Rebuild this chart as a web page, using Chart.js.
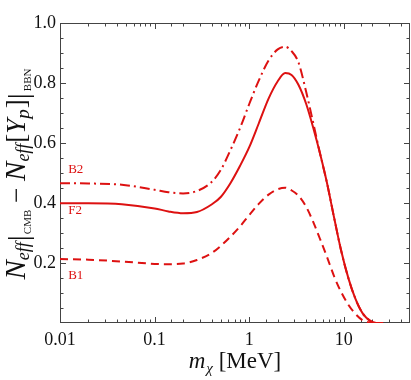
<!DOCTYPE html>
<html>
<head>
<meta charset="utf-8">
<script src="https://cdn.jsdelivr.net/npm/chart.js@4.4.1/dist/chart.umd.min.js"></script>
<style>
  html, body { margin: 0; padding: 0; background: #fff; }
</style>
</head>
<body>
<canvas id="neffChart" width="411" height="380"></canvas>
<script>
// dark matter mass in MeV
const massMeV = [0.01, 0.02, 0.045, 0.1, 0.14, 0.2, 0.28, 0.4, 0.5, 0.63, 0.8, 1.0, 1.26, 1.6, 2.0,
                 2.4, 2.8, 3.3, 4.0, 4.8, 5.6, 6.6, 7.9, 9.3, 11.2, 13.2, 15.8, 19, 22, 26];
// Neff|CMB - Neff[Yp]|BBN for each case
const f2 = [0.399, 0.399, 0.396, 0.382, 0.372, 0.366, 0.370, 0.395, 0.420, 0.465, 0.524, 0.586, 0.665, 0.748, 0.806,
            0.833, 0.827, 0.795, 0.730, 0.645, 0.565, 0.470, 0.350, 0.245, 0.148, 0.082, 0.032, 0.007, 0.0, 0.0];
const b2 = [0.466, 0.465, 0.461, 0.444, 0.436, 0.432, 0.440, 0.470, 0.510, 0.575, 0.650, 0.730, 0.808, 0.875, 0.912,
            0.921, 0.906, 0.870, 0.770, 0.660, 0.565, 0.470, 0.350, 0.245, 0.148, 0.082, 0.032, 0.007, 0.0, 0.0];
const b1 = [0.213, 0.211, 0.205, 0.197, 0.196, 0.198, 0.210, 0.233, 0.257, 0.287, 0.322, 0.360, 0.397, 0.428, 0.446,
            0.451, 0.442, 0.425, 0.387, 0.333, 0.280, 0.222, 0.155, 0.105, 0.060, 0.031, 0.009, 0.001, 0.0, 0.0];

const xTickLabels = [0.01, 0.1, 1, 10];
const yTickLabels = [0.2, 0.4, 0.6, 0.8, 1.0];

const RED = "#dd1111";
const SERIF = "'Liberation Serif', 'DejaVu Serif', serif";

const toPoints = (vals) => vals.map((v, i) => ({ x: massMeV[i], y: v }));
const isDecade = (v) => Math.abs(Math.log10(v) - Math.round(Math.log10(v))) < 1e-6;
const isMajorY = (v) => yTickLabels.some(t => Math.abs(t - v) < 1e-6) || Math.abs(v) < 1e-6;

// draws a row of text pieces: [text, font, baseline shift, extra gap after]
function drawPieces(ctx, pieces, cx, cy) {
    let total = 0;
    pieces.forEach(p => { ctx.font = p[1]; total += ctx.measureText(p[0]).width + (p[3] || 0); });
    let x = cx - total / 2;
    pieces.forEach(p => {
        ctx.font = p[1];
        ctx.fillText(p[0], x, cy + (p[2] || 0));
        x += ctx.measureText(p[0]).width + (p[3] || 0);
    });
}

const frame = {
    id: "frame",
    beforeDatasetsDraw(chart) {
        const { ctx, chartArea: a, scales: { x, y } } = chart;
        ctx.save();
        ctx.strokeStyle = "#444";
        ctx.lineWidth = 1;
        ctx.strokeRect(a.left + 0.5, a.top + 0.5, a.right - a.left - 1, a.bottom - a.top - 1);
        ctx.beginPath();
        x.ticks.forEach(t => {
            const px = Math.round(x.getPixelForValue(t.value)) + 0.5;
            if (px <= a.left + 1 || px >= a.right - 1) return;
            const len = isDecade(t.value) ? 6 : 3.5;
            ctx.moveTo(px, a.bottom); ctx.lineTo(px, a.bottom - len);
            ctx.moveTo(px, a.top); ctx.lineTo(px, a.top + len);
        });
        y.ticks.forEach(t => {
            const py = Math.round(y.getPixelForValue(t.value)) + 0.5;
            if (py <= a.top + 1 || py >= a.bottom - 1) return;
            const len = isMajorY(t.value) ? 6 : 3.5;
            ctx.moveTo(a.left, py); ctx.lineTo(a.left + len, py);
            ctx.moveTo(a.right, py); ctx.lineTo(a.right - len, py);
        });
        ctx.stroke();
        ctx.restore();
    },
    afterDraw(chart) {
        const { ctx, chartArea: a, scales: { x, y } } = chart;
        ctx.save();
        ctx.fillStyle = "#111";
        ctx.textBaseline = "alphabetic";

        // x tick labels
        ctx.textAlign = "center";
        ctx.font = "18px " + SERIF;
        xTickLabels.forEach(v => ctx.fillText(String(v), x.getPixelForValue(v), a.bottom + 22));

        // x title
        ctx.textAlign = "left";
        drawPieces(ctx, [
            ["m", "italic 23px " + SERIF, 0, 1],
            ["\u03c7", "italic 15px " + SERIF, 5],
            [" [MeV]", "23px " + SERIF, 0]
        ], (a.left + a.right) / 2, 368);

        // y title
        const bigI = "italic 29px " + SERIF, mid = "27px " + SERIF, midI = "italic 27px " + SERIF;
        const subI = "italic 18px " + SERIF, tiny = "11px " + SERIF, bar = "30px " + SERIF;
        ctx.translate(25, 174);
        ctx.rotate(-Math.PI / 2);
        drawPieces(ctx, [
            ["N", bigI, 0], ["eff", subI, 4, 1], ["|", bar, 3, 1], ["CMB", tiny, 6],
            [" \u2212 ", mid, 0],
            ["N", bigI, 0], ["eff", subI, 4, 1], ["[", mid, 0], ["Y", midI, 0], ["p", "italic 19px " + SERIF, 4, 1],
            ["]", mid, 0], ["|", bar, 3, 2], ["BBN", tiny, 6]
        ], 0, 0);
        ctx.restore();

        // curve names
        ctx.save();
        ctx.fillStyle = RED;
        ctx.font = "13px " + SERIF;
        ctx.textBaseline = "middle";
        const lx = x.getPixelForValue(0.0122);
        ctx.fillText("B2", lx, y.getPixelForValue(0.513));
        ctx.fillText("F2", lx, y.getPixelForValue(0.375));
        ctx.fillText("B1", lx, y.getPixelForValue(0.157));
        ctx.restore();
    }
};

const line = (label, data, dash) => ({
    label: label,
    data: toPoints(data),
    borderColor: RED,
    borderWidth: 2,
    borderDash: dash,
    pointRadius: 0,
    fill: false,
    cubicInterpolationMode: "monotone"
});

new Chart(document.getElementById("neffChart"), {
    type: "line",
    data: {
        datasets: [
            line("B2", b2, [10, 4, 2, 4]),
            line("F2", f2, []),
            line("B1", b1, [8, 5])
        ]
    },
    options: {
        responsive: false,
        animation: false,
        devicePixelRatio: 1,
        layout: { padding: { top: 23, right: 1, left: 0, bottom: 0 } },
        plugins: { legend: { display: false }, tooltip: { enabled: false } },
        scales: {
            x: {
                type: "logarithmic",
                min: 0.01,
                max: 50,
                grid: { display: false, drawTicks: false },
                border: { display: false },
                afterFit: (s) => { s.height = 57; },
                ticks: { display: false, autoSkip: false }
            },
            y: {
                min: 0,
                max: 1,
                grid: { display: false, drawTicks: false },
                border: { display: false },
                afterFit: (s) => { s.width = 60; },
                ticks: {
                    stepSize: 0.05,
                    autoSkip: false,
                    padding: 4,
                    color: "#111",
                    font: { family: SERIF, size: 18 },
                    callback: (v) => yTickLabels.some(t => Math.abs(t - v) < 1e-6) ? v.toFixed(1) : ""
                }
            }
        }
    },
    plugins: [frame]
});
</script>
</body>
</html>
